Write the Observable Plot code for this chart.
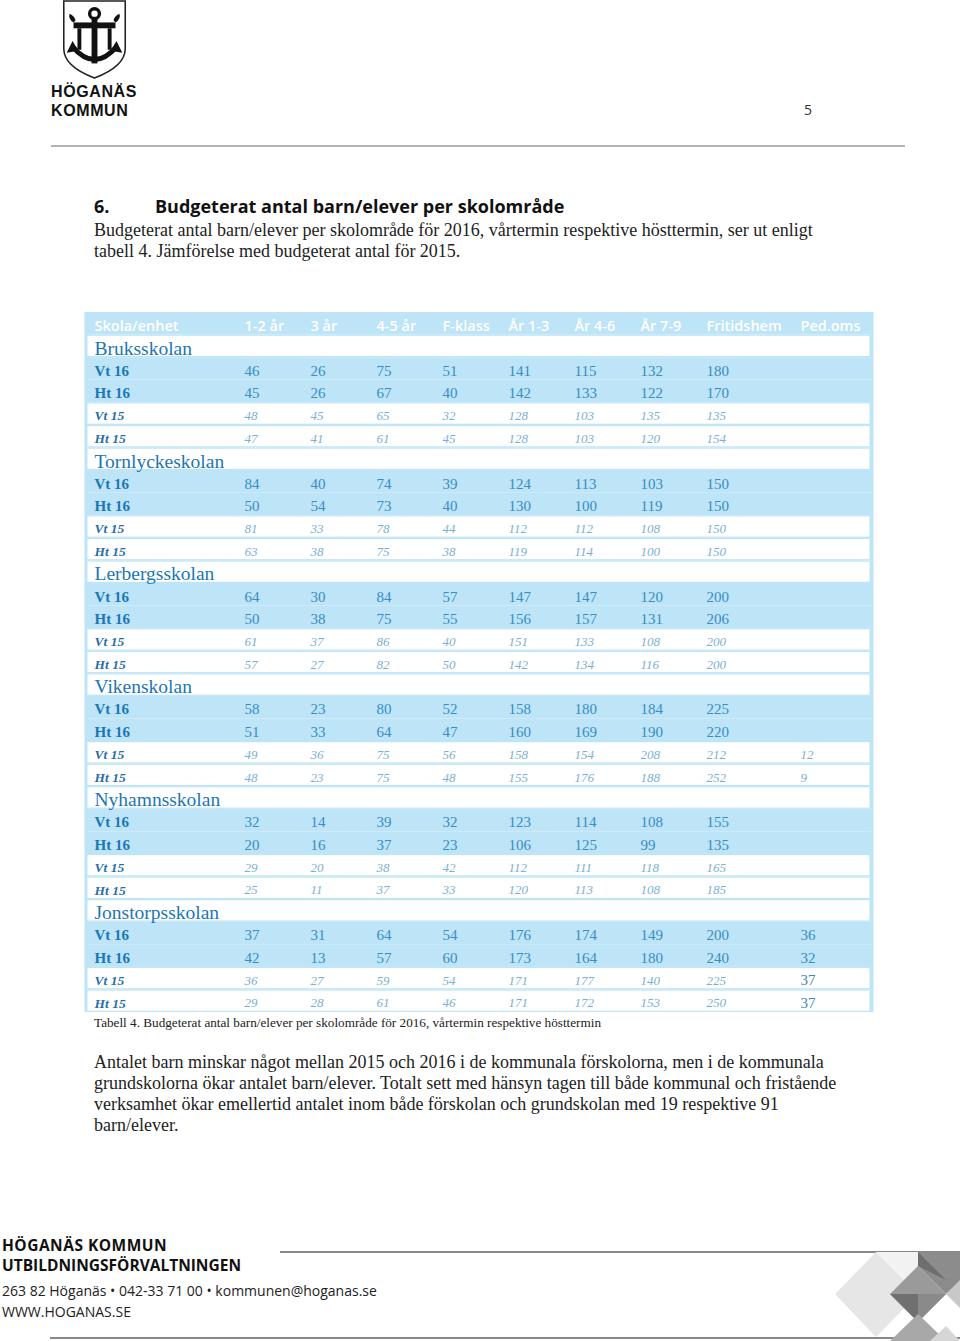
<!DOCTYPE html>
<html lang="sv">
<head>
<meta charset="utf-8">
<script src="https://cdn.jsdelivr.net/npm/d3@7"></script>
<script src="https://cdn.jsdelivr.net/npm/@observablehq/plot@0.6"></script>
<style>
  html, body { margin: 0; padding: 0; background: #fff; }
  body { width: 960px; height: 1341px; position: relative; overflow: hidden; }
  .abs { position: absolute; white-space: nowrap; }
  .serif { font-family: "Liberation Serif", "DejaVu Serif", serif; color: #222; }
  .sans { font-family: "Open Sans", "Noto Sans", sans-serif; color: #111; }
  .logo { font-family: "Liberation Sans", Arial, sans-serif; font-weight: 700; font-size: 16px; line-height: 19px; letter-spacing: 0.6px; color: #111; }
  #table { position: absolute; left: 0; top: 312px; line-height: 0; }
</style>
</head>
<body>
<!-- header logo -->
<svg class="abs" style="left:60px;top:0px" width="70" height="80" viewBox="0 0 70 82">
  <path d="M3,1 H66 V50 Q66,68 34.5,80 Q3,68 3,50 Z" fill="#fff" stroke="#222" stroke-width="1.6"/>
  <circle cx="34.5" cy="14" r="5" fill="none" stroke="#111" stroke-width="3.5"/>
  <rect x="31.5" y="19" width="6" height="46" fill="#111"/>
  <rect x="13" y="23" width="43" height="6" fill="#111"/>
  <path d="M13,23 q-6,-4 -4,-9 q5,2 6,7 z M56,23 q6,-4 4,-9 q-5,2 -6,7 z" fill="#111"/>
  <rect x="17" y="29" width="4" height="22" fill="#111"/>
  <rect x="48" y="29" width="4" height="22" fill="#111"/>
  <path d="M12,48 Q34.5,74 57,48" fill="none" stroke="#111" stroke-width="5"/>
  <path d="M6,54 L12,42 L18,52 Z M63,54 L57,42 L51,52 Z" fill="#111"/>
</svg>
<div class="abs logo" style="left:51px;top:82px;">HÖGANÄS</div>
<div class="abs logo" style="left:51px;top:101px;">KOMMUN</div>
<div class="abs sans" style="left:804px;top:100px;font-size:14px;line-height:20px;color:#333;">5</div>
<div class="abs" style="left:51px;top:145px;width:854px;height:2px;background:#b3b3b3;"></div>

<!-- title and intro -->
<div class="abs sans" style="left:94px;top:194px;font-size:18px;line-height:24px;font-weight:700;">6.</div>
<div class="abs sans" style="left:155px;top:194px;font-size:18px;line-height:24px;font-weight:700;">Budgeterat antal barn/elever per skolområde</div>
<div class="abs serif" style="left:94px;top:220px;font-size:18px;line-height:21px;">Budgeterat antal barn/elever per skolområde för 2016, vårtermin respektive hösttermin, ser ut enligt<br>tabell 4. Jämförelse med budgeterat antal för 2015.</div>

<div id="table"></div>

<div class="abs serif" style="left:94px;top:1015px;font-size:13.2px;line-height:16px;">Tabell 4. Budgeterat antal barn/elever per skolområde för 2016, vårtermin respektive hösttermin</div>

<div class="abs serif" style="left:94px;top:1052px;font-size:18px;line-height:21px;">Antalet barn minskar något mellan 2015 och 2016 i de kommunala förskolorna, men i de kommunala<br>grundskolorna ökar antalet barn/elever. Totalt sett med hänsyn tagen till både kommunal och fristående<br>verksamhet ökar emellertid antalet inom både förskolan och grundskolan med 19 respektive 91<br>barn/elever.</div>

<!-- footer -->
<div class="abs sans" style="left:2px;top:1235px;font-size:15.5px;line-height:20px;font-weight:700;letter-spacing:0.5px;">HÖGANÄS KOMMUN</div>
<div class="abs sans" style="left:2px;top:1255px;font-size:15.5px;line-height:20px;font-weight:700;">UTBILDNINGSFÖRVALTNINGEN</div>
<div class="abs sans" style="left:2px;top:1280px;font-size:14px;line-height:21px;color:#222;">263 82 Höganäs • 042-33 71 00 • kommunen@hoganas.se<br>WWW.HOGANAS.SE</div>
<div class="abs" style="left:280px;top:1251px;width:680px;height:1.5px;background:#888;"></div>
<div class="abs" style="left:50px;top:1337px;width:910px;height:1.5px;background:#888;"></div>
<svg class="abs" style="left:830px;top:1252px" width="130" height="89" viewBox="0 0 130 89">
  <polygon points="5,42 46,0 88,42 46,85" fill="#e6e6e6"/>
  <polygon points="46,0 88,42 88,0" fill="#f2f2f2"/>
  <polygon points="60,42 88,14 116,42 88,70" fill="#9a9a9a"/>
  <polygon points="60,42 88,70 88,42" fill="#707070"/>
  <polygon points="88,42 116,42 88,70" fill="#8a8a8a"/>
  <polygon points="88,0 130,0 130,30 116,42 88,14" fill="#8c8c8c"/>
  <polygon points="88,0 116,28 88,14" fill="#6e6e6e"/>
  <polygon points="116,42 130,28 130,56" fill="#c8c8c8"/>
  <polygon points="60,89 88,62 116,89" fill="#a8a8a8"/>
  <polygon points="100,89 116,74 130,89" fill="#d6d6d6"/>
</svg>

<script>
// ---- data ----
const columns = ["1-2 år", "3 år", "4-5 år", "F-klass", "År 1-3", "År 4-6", "År 7-9", "Fritidshem", "Ped.oms"];
const terms = ["Vt 16", "Ht 16", "Vt 15", "Ht 15"];
const schools = ["Bruksskolan", "Tornlyckeskolan", "Lerbergsskolan", "Vikenskolan", "Nyhamnsskolan", "Jonstorpsskolan"];

const bruksskolan = [
  [46, 26, 75, 51, 141, 115, 132, 180, null],
  [45, 26, 67, 40, 142, 133, 122, 170, null],
  [48, 45, 65, 32, 128, 103, 135, 135, null],
  [47, 41, 61, 45, 128, 103, 120, 154, null]
];
const tornlyckeskolan = [
  [84, 40, 74, 39, 124, 113, 103, 150, null],
  [50, 54, 73, 40, 130, 100, 119, 150, null],
  [81, 33, 78, 44, 112, 112, 108, 150, null],
  [63, 38, 75, 38, 119, 114, 100, 150, null]
];
const lerbergsskolan = [
  [64, 30, 84, 57, 147, 147, 120, 200, null],
  [50, 38, 75, 55, 156, 157, 131, 206, null],
  [61, 37, 86, 40, 151, 133, 108, 200, null],
  [57, 27, 82, 50, 142, 134, 116, 200, null]
];
const vikenskolan = [
  [58, 23, 80, 52, 158, 180, 184, 225, null],
  [51, 33, 64, 47, 160, 169, 190, 220, null],
  [49, 36, 75, 56, 158, 154, 208, 212, 12],
  [48, 23, 75, 48, 155, 176, 188, 252, 9]
];
const nyhamnsskolan = [
  [32, 14, 39, 32, 123, 114, 108, 155, null],
  [20, 16, 37, 23, 106, 125, 99, 135, null],
  [29, 20, 38, 42, 112, 111, 118, 165, null],
  [25, 11, 37, 33, 120, 113, 108, 185, null]
];
const jonstorpsskolan = [
  [37, 31, 64, 54, 176, 174, 149, 200, 36],
  [42, 13, 57, 60, 173, 164, 180, 240, 32],
  [36, 27, 59, 54, 171, 177, 140, 225, 37],
  [29, 28, 61, 46, 171, 172, 153, 250, 37]
];
const tables = [bruksskolan, tornlyckeskolan, lerbergsskolan, vikenskolan, nyhamnsskolan, jonstorpsskolan];

// ---- build rows / cells ----
const rows = [{id: "header", kind: "header", label: "Skola/enhet"}];
const cells = [];
schools.forEach((s, i) => {
  rows.push({id: s, kind: "school", label: s});
  terms.forEach((t, j) => {
    const id = s + "|" + t;
    rows.push({id, kind: j < 2 ? "cur" : "prev", label: t});
    columns.forEach((c, k) => {
      const v = tables[i][j][k];
      if (v != null) cells.push({row: id, col: c, value: v, prev: j >= 2, school: s});
    });
  });
});

const BG = "#bde4f7";
const DARK = "#1b76b6";
const CUR = "#3a8cc4";
const PREV = "#7cb0d2";
const LABPREV = "#2a6ea6";
const SERIF = "Liberation Serif, DejaVu Serif, serif";
const SANS = "Open Sans, Noto Sans, sans-serif";

const main = columns.slice(0, 8);
const ped = columns[8];
const isUpright = d => !d.prev || (d.school === "Jonstorpsskolan" && d.col === ped);

const numberMarks = (filter, dx) => [
  Plot.text(cells.filter(d => filter(d) && isUpright(d)), {
    x: "col", y: "row", text: d => String(d.value), textAnchor: "start", dx, dy: 2,
    fontFamily: SERIF, fontSize: 15, fill: d => d.prev ? "#3f86b8" : CUR
  }),
  Plot.text(cells.filter(d => filter(d) && !isUpright(d)), {
    x: "col", y: "row", text: d => String(d.value), textAnchor: "start", dx, dy: 2,
    fontFamily: SERIF, fontSize: 13, fontStyle: "italic", fill: PREV
  })
];

const chart = Plot.plot({
  width: 960,
  height: 700,
  marginLeft: 85,
  marginRight: 88,
  marginTop: 0,
  marginBottom: 0,
  x: {type: "point", domain: columns, range: [244, 772], padding: 0, round: false, axis: null},
  y: {type: "band", domain: rows.map(r => r.id), range: [0, 700], padding: 0, round: false, axis: null},
  marks: [
    Plot.cell(rows, {y: "id", fill: BG}),
    Plot.cell(rows.filter(r => r.kind === "school" || r.kind === "prev"),
      {y: "id", fill: "white", insetLeft: 2.5, insetRight: 2.5, insetTop: 1.2, insetBottom: 1.2}),
    Plot.frame({stroke: BG, strokeWidth: 2}),
    // header
    Plot.text(rows.filter(r => r.kind === "header"), {
      y: "id", text: "label", frameAnchor: "left", dx: 9, dy: 3, textAnchor: "start",
      fontFamily: SANS, fontSize: 14.5, fontWeight: 600, fill: "white"
    }),
    Plot.text(main, {
      x: d => d, y: () => "header", textAnchor: "start", dy: 3,
      fontFamily: SANS, fontSize: 14.5, fontWeight: 600, fill: "white"
    }),
    Plot.text([ped], {
      x: d => d, y: () => "header", textAnchor: "start", dx: 28, dy: 3,
      fontFamily: SANS, fontSize: 14.5, fontWeight: 600, fill: "white"
    }),
    // school names
    Plot.text(rows.filter(r => r.kind === "school"), {
      y: "id", text: "label", frameAnchor: "left", dx: 9, dy: 2, textAnchor: "start",
      fontFamily: SERIF, fontSize: 19.5, fill: DARK
    }),
    // term labels
    Plot.text(rows.filter(r => r.kind === "cur"), {
      y: "id", text: "label", frameAnchor: "left", dx: 9, dy: 2, textAnchor: "start",
      fontFamily: SERIF, fontSize: 15, fontWeight: "bold", fill: DARK
    }),
    Plot.text(rows.filter(r => r.kind === "prev"), {
      y: "id", text: "label", frameAnchor: "left", dx: 9, dy: 2, textAnchor: "start",
      fontFamily: SERIF, fontSize: 13.5, fontWeight: "bold", fontStyle: "italic", fill: LABPREV
    }),
    // values
    ...numberMarks(d => d.col !== ped, 0),
    ...numberMarks(d => d.col === ped, 28)
  ]
});
document.getElementById("table").appendChild(chart);
</script>
</body>
</html>
